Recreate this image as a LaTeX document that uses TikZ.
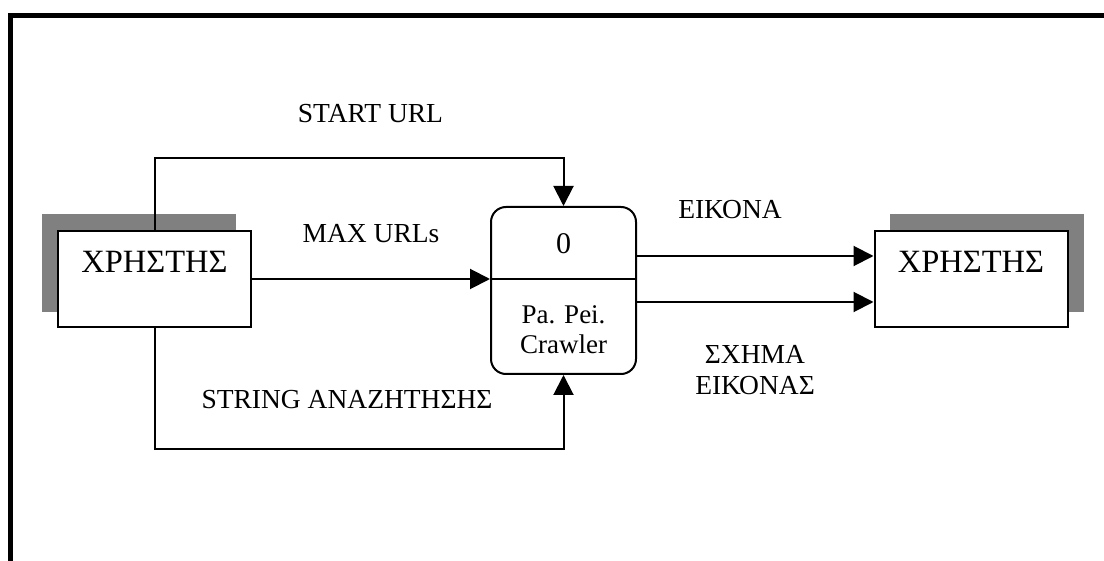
\documentclass[tikz,border=0pt]{standalone}
\usepackage{fontspec}
\setmainfont{Liberation Serif}
\usetikzlibrary{arrows.meta}
\definecolor{shadowgray}{HTML}{808080}
\begin{document}
\begin{tikzpicture}[x=1pt,y=-1pt,
  conn/.style={line width=2pt, -{Triangle[length=20pt,width=20pt]}},
  plain/.style={line width=2pt},
  lbl/.style={font=\fontsize{27.5}{31}\selectfont, inner sep=0pt, align=center},
  big/.style={font=\fontsize{32.5}{37}\selectfont, inner sep=0pt},
  ent/.style={draw, line width=2pt, fill=white, minimum width=193pt, minimum height=96pt, inner sep=0pt},
  proc/.style={draw, line width=2pt, rounded corners=15pt, minimum width=145pt, minimum height=167pt, inner sep=0pt}]
\useasboundingbox (0,0) rectangle (1104,561);
\fill[white] (0,0) rectangle (1104,561);
% frame
\draw[line width=4.5pt] (10.5,561) -- (10.5,15.5) -- (1104,15.5);
% shadows
\fill[shadowgray] (42,214) rectangle (236,312);
\fill[shadowgray] (890,214) rectangle (1084,312);
% entities
\node[ent] (L) at (154.5,279) {};
\node[big] (Lt) at (154.5,261.5) {ΧΡΗΣΤΗΣ};
\node[ent] (R) at (971,279) {};
\node[big] (Rt) at (971,261.5) {ΧΡΗΣΤΗΣ};
% process
\node[proc] (P) at (563.5,290.5) {};
\coordinate (d) at (0,279);
\coordinate (e1) at (0,256);
\coordinate (e2) at (0,302);
\draw[plain] (P.west |- d) -- (P.east |- d);
\node[font=\fontsize{30}{34}\selectfont, inner sep=0pt] (Pn) at (563.5,243.5) {0};
\node[lbl, font=\fontsize{27}{30}\selectfont] (Pt) at (563.5,330) {Pa. Pei.\\Crawler};
% connectors
\draw[conn] (L.north) -- ++(0,-72) -| (P.north);
\draw[conn] (L.east |- d) -- (P.west |- d);
\draw[conn] (L.south) -- ++(0,121) -| (P.south);
\draw[conn] (P.east |- e1) -- (R.west |- e1);
\draw[conn] (P.east |- e2) -- (R.west |- e2);
% labels
\node[lbl] (l1) at (370.5,114) {START URL};
\node[lbl] (l2) at (371,234) {MAX URLs};
\node[lbl] (l3) at (347,400) {STRING ΑΝΑΖΗΤΗΣΗΣ};
\node[lbl] (l4) at (730,210) {ΕΙΚΟΝΑ};
\node[lbl] (l5) at (755,370) {ΣΧΗΜΑ\\ΕΙΚΟΝΑΣ};
\end{tikzpicture}
\end{document}
